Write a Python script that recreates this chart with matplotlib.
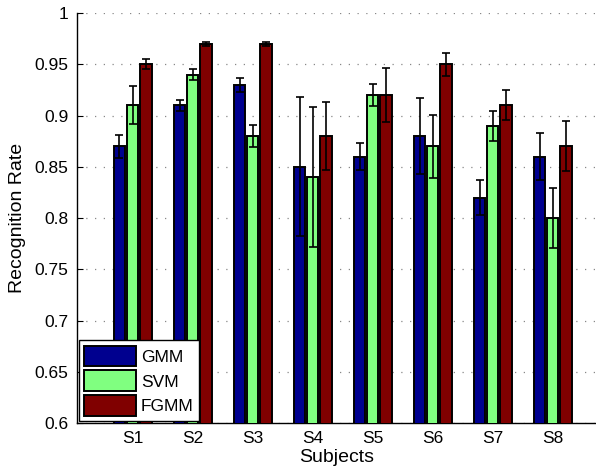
import matplotlib
matplotlib.use("Agg")
import matplotlib.pyplot as plt
import numpy as np

plt.rcParams.update({
    "font.family": ["Liberation Sans", "DejaVu Sans"],
    "font.size": 12,
})

SUBJECTS = ["S1", "S2", "S3", "S4", "S5", "S6", "S7", "S8"]
METHODS = ["GMM", "SVM", "FGMM"]
GMM = [0.87, 0.91, 0.93, 0.85, 0.86, 0.88, 0.82, 0.86]
SVM = [0.91, 0.94, 0.88, 0.84, 0.92, 0.87, 0.89, 0.80]
FGMM = [0.95, 0.97, 0.97, 0.88, 0.92, 0.95, 0.91, 0.87]
GMM_ERR = [0.011, 0.0055, 0.007, 0.068, 0.0135, 0.037, 0.0175, 0.0225]
SVM_ERR = [0.0185, 0.005, 0.0105, 0.068, 0.011, 0.031, 0.0145, 0.029]
FGMM_ERR = [0.005, 0.002, 0.002, 0.0335, 0.026, 0.0115, 0.0145, 0.0245]

COLORS = ["#00008F", "#80FF80", "#800000"]

fig = plt.figure(figsize=(5.96, 4.75), dpi=100)
ax = fig.add_axes([0.129, 0.1095, 0.871, 0.863])

x = np.arange(1, len(SUBJECTS) + 1)
width = 0.19
offsets = [-0.22, 0.0, 0.22]
vals = [GMM, SVM, FGMM]
errs = [GMM_ERR, SVM_ERR, FGMM_ERR]

for name, v, e, off, c in zip(METHODS, vals, errs, offsets, COLORS):
    ax.bar(x + off, v, width, color=c, edgecolor="black", linewidth=1.4,
           label=name, zorder=3)
    ax.errorbar(x + off, v, yerr=e, fmt="none", ecolor="black",
                elinewidth=1.2, capsize=3, capthick=1.2, zorder=4)

ax.set_ylim(0.6, 1.0)
ax.set_xlim(0.07, 8.72)
yt = [0.6, 0.65, 0.7, 0.75, 0.8, 0.85, 0.9, 0.95, 1.0]
ax.set_yticks(yt)
ax.set_yticklabels(["0.6", "0.65", "0.7", "0.75", "0.8", "0.85", "0.9", "0.95", "1"])
ax.set_xticks(x)
ax.set_xticklabels(SUBJECTS)
ax.tick_params(direction="in", length=4, labelsize=12.5, pad=6)

ax.spines["top"].set_visible(False)
ax.spines["right"].set_visible(False)
ax.spines["left"].set_linewidth(1.0)
ax.spines["bottom"].set_linewidth(1.0)

ax.yaxis.grid(True, color="#888888", linestyle=(0, (1, 6)), linewidth=0.9, zorder=0)
ax.set_axisbelow(True)

ax.set_xlabel("Subjects", fontsize=14, labelpad=2)
ax.set_ylabel("Recognition Rate", fontsize=14, labelpad=6)

leg = ax.legend(loc="lower left", fontsize=12.5, fancybox=False, framealpha=1,
                edgecolor="black", borderaxespad=0.1, handlelength=3.0,
                handleheight=1.45, labelspacing=0.25, handletextpad=0.3,
                borderpad=0.3)
leg.get_frame().set_linewidth(1.0)

fig.savefig("out.png", dpi=100)
